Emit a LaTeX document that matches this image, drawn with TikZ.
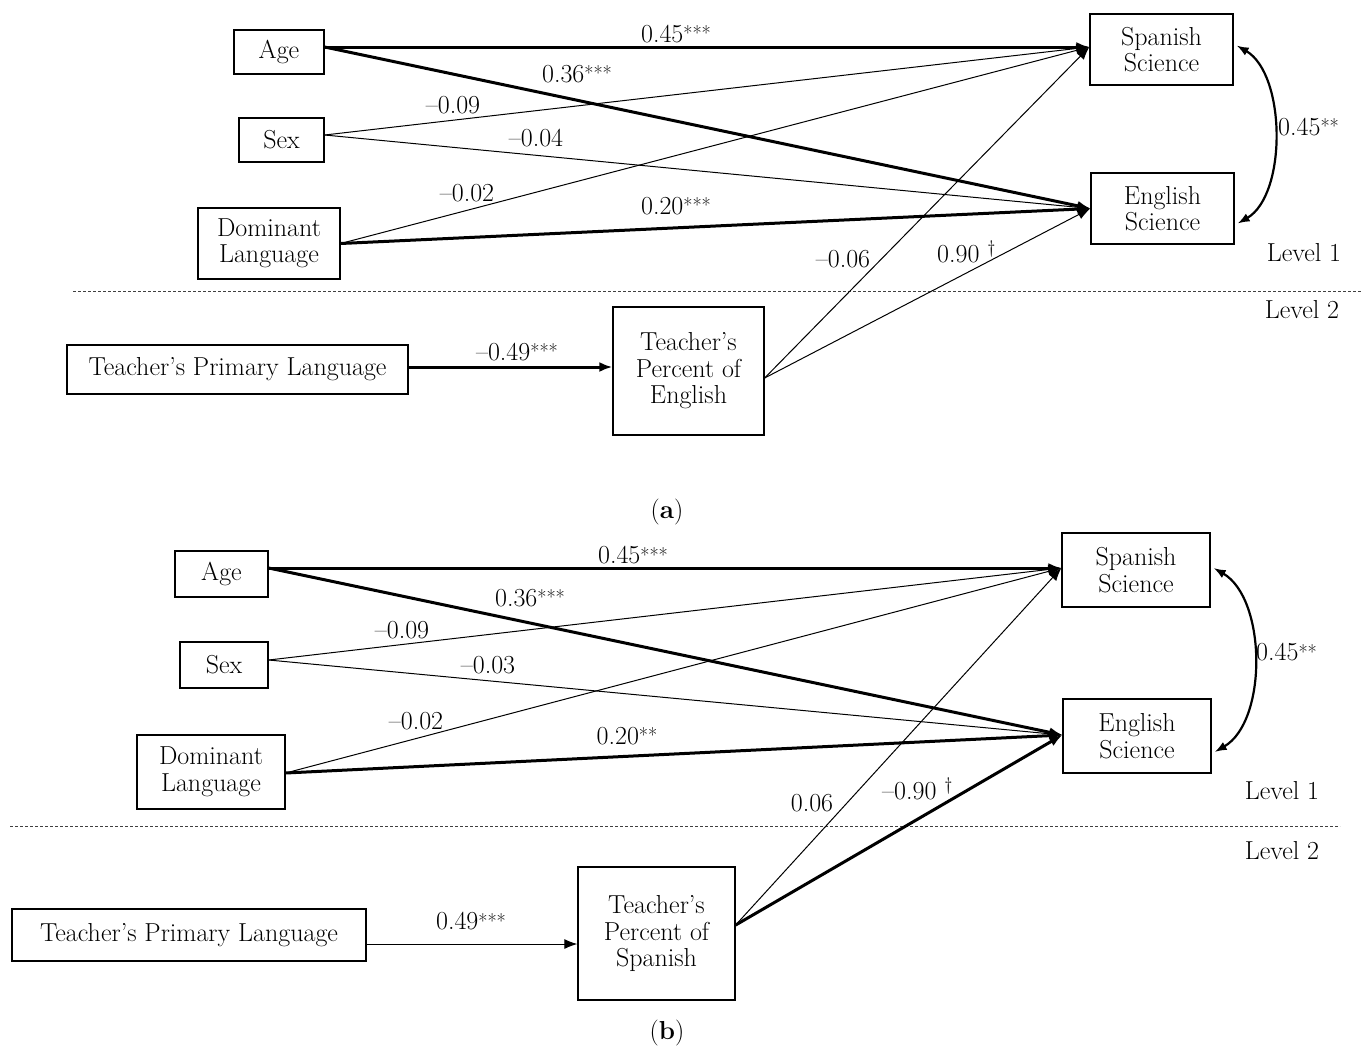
\documentclass[tikz,border=0pt]{standalone}
\usetikzlibrary{arrows.meta}
\newcommand{\dfont}{\fontsize{26}{26.5}\selectfont}
\newcommand{\stars}[1]{\raisebox{1.5pt}{\fontsize{20}{20}\selectfont #1}}
\begin{document}
\begin{tikzpicture}[x=1pt,y=-1pt,
  box/.style={draw, line width=1.3pt, inner sep=0pt, align=center, font=\dfont},
  lbl/.style={inner sep=0pt, font=\dfont},
  tip/.style={-{Latex[length=13pt,width=10pt]}},
  thk/.style={tip, line width=3pt},
  thn/.style={tip, line width=1pt},
  dbl/.style={{Latex[length=12pt,width=9pt]}-{Latex[length=12pt,width=9pt]}, line width=2.2pt},
  sep/.style={line width=0.8pt, dash pattern=on 3pt off 2pt, black!75}]
\fill[white] (0,0) rectangle (1362,1050);
\useasboundingbox (0,0) rectangle (1362,1050);

% ---------------- panel (a) ----------------
\node[box, minimum width=90pt, minimum height=44pt] (agea) at (279,52) {Age};
\node[box, minimum width=85pt, minimum height=44pt] (sexa) at (281.5,140) {Sex};
\node[box, minimum width=142pt, minimum height=71pt] (dla) at (269,243.5) {Dominant\\Language};
\node[box, minimum width=143pt, minimum height=71pt] (spa) at (1161.5,49.5) {Spanish\\Science};
\node[box, minimum width=143pt, minimum height=71pt] (ena) at (1162.5,208.5) {English\\Science};
\node[box, minimum width=341pt, minimum height=49pt] (tpla) at (237.5,369.5) {Teacher’s Primary Language};
\node[box, minimum width=151pt, minimum height=128pt] (tpea) at (688.5,371) {Teacher’s\\Percent of\\English};

\draw[sep] (73,291) -- (1362,291);

\draw[thk] ([yshift=5pt]agea.east) -- ([yshift=2.5pt]spa.west);
\draw[thk] ([yshift=5pt]agea.east) -- (ena.west);
\draw[thn] ([yshift=5pt]sexa.east) -- ([yshift=2.5pt]spa.west);
\draw[thn] ([yshift=5pt]sexa.east) -- (ena.west);
\draw[thn] (dla.east) -- ([yshift=2.5pt]spa.west);
\draw[thk] (dla.east) -- (ena.west);
\draw[thn] ([yshift=-7pt]tpea.east) -- ([yshift=2.5pt]spa.west);
\draw[thn] ([yshift=-7pt]tpea.east) -- (ena.west);
\draw[thk] ([yshift=2.5pt]tpla.east) -- ([yshift=4pt]tpea.west);
\draw[dbl] ([xshift=3pt,yshift=4pt]spa.east) to[out=-30,in=30,looseness=0.82] ([xshift=3pt,yshift=-15pt]ena.east);

\node[lbl] (a1) at (676,34) {0.45\stars{***}};
\node[lbl] (a2) at (577,74) {0.36\stars{***}};
\node[lbl] (a3) at (453,105) {--0.09};
\node[lbl] (a4) at (536,138) {--0.04};
\node[lbl] (a5) at (467,193) {--0.02};
\node[lbl] (a6) at (676,206) {0.20\stars{***}};
\node[lbl] (a7) at (843,259) {--0.06};
\node[lbl, anchor=west] (a8) at (937,252) {0.90 \textsuperscript{\dag}};
\node[lbl, anchor=west] (a9) at (1278,127) {0.45\stars{**}};
\node[lbl] (a10) at (517,352) {--0.49\stars{***}};
\node[lbl] (a11) at (1304,253) {Level 1};
\node[lbl] (a12) at (1302,310) {Level 2};
\node[lbl] (a13) at (667,512) {(\textbf{a})};

% ---------------- panel (b) ----------------
\node[box, minimum width=93pt, minimum height=46pt] (ageb) at (221.5,574) {Age};
\node[box, minimum width=88pt, minimum height=46pt] (sexb) at (224,665) {Sex};
\node[box, minimum width=148pt, minimum height=74pt] (dlb) at (211,772) {Dominant\\Language};
\node[box, minimum width=148pt, minimum height=74pt] (spb) at (1136,570) {Spanish\\Science};
\node[box, minimum width=148pt, minimum height=74pt] (enb) at (1137,736) {English\\Science};
\node[box, minimum width=354pt, minimum height=52pt] (tplb) at (189,935) {Teacher’s Primary Language};
\node[box, minimum width=157pt, minimum height=133pt] (tpsb) at (656.5,933.5) {Teacher’s\\Percent of\\Spanish};

\draw[sep] (10,826) -- (1340,826);

\draw[thk] ([yshift=6pt]ageb.east) -- ([yshift=2pt]spb.west);
\draw[thk] ([yshift=6pt]ageb.east) -- ([yshift=1pt]enb.west);
\draw[thn] ([yshift=5pt]sexb.east) -- ([yshift=2pt]spb.west);
\draw[thn] ([yshift=5pt]sexb.east) -- ([yshift=1pt]enb.west);
\draw[thn] ([yshift=-1pt]dlb.east) -- ([yshift=2pt]spb.west);
\draw[thk] ([yshift=-1pt]dlb.east) -- ([yshift=1pt]enb.west);
\draw[thn] ([yshift=8.5pt]tpsb.east) -- ([yshift=2pt]spb.west);
\draw[thk] ([yshift=8.5pt]tpsb.east) -- ([yshift=1pt]enb.west);
\draw[thn] ([yshift=-9pt]tplb.east) -- ([yshift=-10.5pt]tpsb.west);
\draw[dbl] ([xshift=3pt,yshift=2pt]spb.east) to[out=-30,in=30,looseness=0.85] ([xshift=3pt,yshift=-16pt]enb.east);

\node[lbl] (b1) at (633,555) {0.45\stars{***}};
\node[lbl] (b2) at (530,598) {0.36\stars{***}};
\node[lbl] (b3) at (402,630) {--0.09};
\node[lbl] (b4) at (488,665) {--0.03};
\node[lbl] (b5) at (416,721) {--0.02};
\node[lbl] (b6) at (627,736) {0.20\stars{**}};
\node[lbl] (b7) at (812,803) {0.06};
\node[lbl, anchor=west] (b8) at (882,789) {--0.90 \textsuperscript{\dag}};
\node[lbl, anchor=west] (b9) at (1256,652) {0.45\stars{**}};
\node[lbl] (b10) at (471,921) {0.49\stars{***}};
\node[lbl] (b11) at (1282,791) {Level 1};
\node[lbl] (b12) at (1282,851) {Level 2};
\node[lbl] (b13) at (667,1033) {(\textbf{b})};
\end{tikzpicture}
\end{document}
